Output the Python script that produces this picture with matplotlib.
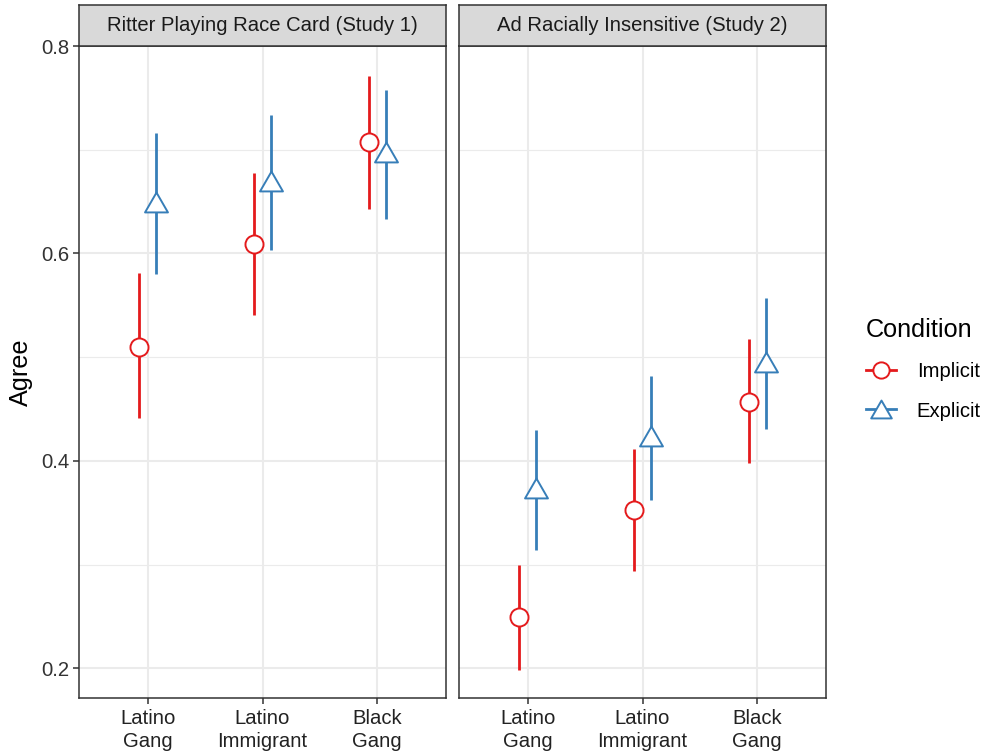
import numpy as np
import matplotlib
matplotlib.use("Agg")
import matplotlib.pyplot as plt
from matplotlib.path import Path
from matplotlib.lines import Line2D

# ---- data
categories = ["Latino\nGang", "Latino\nImmigrant", "Black\nGang"]
panels = ["Ritter Playing Race Card (Study 1)", "Ad Racially Insensitive (Study 2)"]
conditions = ["Implicit", "Explicit"]

study1_implicit = [0.510, 0.609, 0.707]
study1_implicit_lo = [0.441, 0.541, 0.643]
study1_implicit_hi = [0.581, 0.678, 0.771]
study1_explicit = [0.650, 0.670, 0.698]
study1_explicit_lo = [0.580, 0.603, 0.633]
study1_explicit_hi = [0.716, 0.733, 0.758]

study2_implicit = [0.249, 0.353, 0.457]
study2_implicit_lo = [0.198, 0.294, 0.398]
study2_implicit_hi = [0.300, 0.411, 0.517]
study2_explicit = [0.374, 0.424, 0.495]
study2_explicit_lo = [0.314, 0.362, 0.431]
study2_explicit_hi = [0.430, 0.482, 0.557]

y_ticks = [0.2, 0.4, 0.6, 0.8]
y_minor = [0.3, 0.5, 0.7]

# ---- styling
colors = {"Implicit": "#E41A1C", "Explicit": "#377EB8"}
tri = Path([(-1, -0.866), (1, -0.866), (0, 0.866), (-1, -0.866)],
           [Path.MOVETO, Path.LINETO, Path.LINETO, Path.CLOSEPOLY])
markers = {"Implicit": ("o", 13.0), "Explicit": (tri, 16.5)}
dodge = {"Implicit": -0.075, "Explicit": 0.075}
dark = "#333333"
grid_c = "#EBEBEB"
base = 18.2
small = base * 0.8

W, H = 989, 754
fig = plt.figure(figsize=(W / 100, H / 100), dpi=100)
plt.rcParams["font.family"] = ["Liberation Sans", "DejaVu Sans"]

def fx(px):
    return px / W

def fy(px):
    return 1 - px / H

panel_x = [(79, 446), (459, 826)]
top_px, bot_px, strip_top = 46, 698, 5

data = [
    {"Implicit": (study1_implicit, study1_implicit_lo, study1_implicit_hi),
     "Explicit": (study1_explicit, study1_explicit_lo, study1_explicit_hi)},
    {"Implicit": (study2_implicit, study2_implicit_lo, study2_implicit_hi),
     "Explicit": (study2_explicit, study2_explicit_lo, study2_explicit_hi)},
]

axes = []
for i, (x0, x1) in enumerate(panel_x):
    ax = fig.add_axes([fx(x0), fy(bot_px), fx(x1) - fx(x0), fy(top_px) - fy(bot_px)])
    axes.append(ax)
    xs = np.arange(1, len(categories) + 1)
    ax.set_xlim(0.4, len(categories) + 0.6)
    ax.set_ylim(0.1713, 0.8)

    # grid
    for v in y_ticks:
        ax.axhline(v, color=grid_c, lw=1.5, zorder=0)
    for v in y_minor:
        ax.axhline(v, color=grid_c, lw=0.8, zorder=0)
    for v in xs:
        ax.axvline(v, color=grid_c, lw=1.5, zorder=0)

    for cond in conditions:
        mid, lo, hi = data[i][cond]
        pos = xs + dodge[cond]
        ax.vlines(pos, lo, hi, color=colors[cond], lw=2.0, zorder=2)
        m, ms = markers[cond]
        ax.plot(pos, mid, ls="none", marker=m, ms=ms, mfc="white",
                mec=colors[cond], mew=1.4, zorder=3)

    ax.set_xticks(xs)
    ax.set_xticklabels(categories, fontsize=small, color="#222222", linespacing=1.27)
    ax.tick_params(axis="x", length=4, width=1.1, color=dark, pad=4)
    if i == 0:
        ax.set_yticks(y_ticks)
        ax.set_yticklabels([f"{v:.1f}" for v in y_ticks], fontsize=small, color="#333333")
        ax.tick_params(axis="y", length=4, width=1.1, color=dark, pad=3)
        ax.set_ylabel("Agree", fontsize=base, labelpad=6)
    else:
        ax.set_yticks([])
    for s in ax.spines.values():
        s.set_color(dark)
        s.set_linewidth(1.1)

    # facet strip
    sax = fig.add_axes([fx(x0), fy(top_px), fx(x1) - fx(x0), fy(strip_top) - fy(top_px)])
    sax.set_facecolor("#D9D9D9")
    sax.set_xticks([])
    sax.set_yticks([])
    for s in sax.spines.values():
        s.set_color(dark)
        s.set_linewidth(1.1)
    sax.text(0.5, 0.5, panels[i], ha="center", va="center", fontsize=small, color="#1A1A1A")

# legend
handles = []
for cond in conditions:
    m, ms = markers[cond]
    handles.append(Line2D([0], [0], color=colors[cond], lw=2.0, marker=m,
                          ms=ms * 0.9, mfc="white", mec=colors[cond], mew=1.4))
leg = fig.legend(handles, conditions, loc="upper left",
                 bbox_to_anchor=(fx(856), fy(308)), frameon=False,
                 fontsize=small, title="Condition", title_fontsize=base,
                 handlelength=1.5, handletextpad=1.0, labelspacing=1.0,
                 alignment="left", borderpad=0)

plt.savefig("out.png", dpi=100)
